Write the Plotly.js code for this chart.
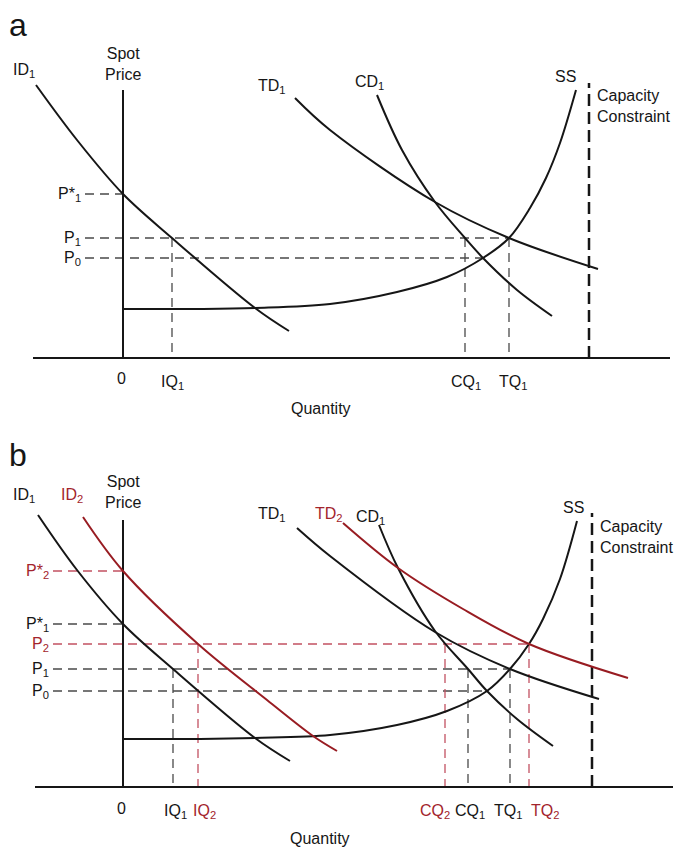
<!DOCTYPE html>
<html>
<head>
<meta charset="utf-8">
<script src="https://cdn.plot.ly/plotly-3.0.1.min.js"></script>
<style>html,body{margin:0;padding:0;background:#fff;}#chart{width:675px;height:850px;}</style>
</head>
<body>
<div id="chart"></div>
<script>
// ---------- Panel a data (Quantity, Spot Price) ----------
const aID1_q = [-8.7, -4.6, 0, 4.9, 13.2, 16.6];
const aID1_p = [27.3, 21.8, 16.4, 12.0, 5.0, 2.7];
const aTD1_q = [17.2, 20.7, 31.2, 38.6, 47.5];
const aTD1_p = [26.0, 22.8, 15.6, 12.0, 8.9];
const aCD1_q = [25.4, 27.9, 31.2, 34.2, 36.0, 39.4, 42.9];
const aCD1_p = [26.3, 20.8, 15.6, 12.0, 10.0, 6.8, 4.2];
const aSS_q = [0, 7.7, 13.2, 20.7, 27.4, 32.4, 36.0, 38.6, 40.7, 42.3, 43.7, 45.3];
const aSS_p = [4.9, 4.9, 5.0, 5.4, 6.6, 8.1, 10.0, 12.0, 15.0, 18.0, 21.5, 26.8];
const aPriceLabels = ['P*<sub>1</sub>', 'P<sub>1</sub>', 'P<sub>0</sub>'];
const aPrices = [16.4, 12.0, 10.0];
const aPriceEnds = [0, 38.6, 36.0];
const aQtyLabels = ['IQ<sub>1</sub>', 'CQ<sub>1</sub>', 'TQ<sub>1</sub>'];
const aQty = [4.9, 34.2, 38.6];
const aQtyTops = [12.0, 12.0, 12.0];
const aQtyLabelPos = [4.9, 34.3, 39.0];
const aCapacity = 46.6;

// ---------- Panel b data ----------
const bID1_q = [-8.5, -4.6, 0, 5.0, 13.2, 16.7];
const bID1_p = [27.2, 21.7, 16.3, 11.8, 4.9, 2.6];
const bID2_q = [-4.0, 0, 7.5, 14.4, 19.0, 21.4];
const bID2_p = [27.0, 21.6, 14.3, 8.7, 5.1, 3.6];
const bTD1_q = [17.4, 20.7, 31.2, 38.7, 47.6];
const bTD1_p = [25.9, 23.1, 15.5, 11.8, 8.8];
const bTD2_q = [22.0, 27.5, 34.0, 40.6, 50.5];
const bTD2_p = [26.4, 21.9, 17.8, 14.3, 10.9];
const bCD1_q = [25.6, 27.5, 31.2, 34.5, 36.4, 39.4, 43.0];
const bCD1_p = [26.2, 21.9, 15.6, 11.8, 9.6, 6.8, 4.1];
const bSS_q = [0, 7.7, 13.2, 20.7, 27.4, 32.4, 36.4, 38.7, 40.6, 42.0, 43.7, 45.4];
const bSS_p = [4.8, 4.8, 4.9, 5.2, 6.2, 7.6, 9.6, 11.8, 14.3, 16.8, 20.8, 26.6];
const bBlackPriceLabels = ['P*<sub>1</sub>', 'P<sub>1</sub>', 'P<sub>0</sub>'];
const bBlackPrices = [16.3, 11.8, 9.6];
const bBlackPriceEnds = [0, 38.7, 36.4];
const bRedPriceLabels = ['P*<sub>2</sub>', 'P<sub>2</sub>'];
const bRedPrices = [21.6, 14.3];
const bRedPriceEnds = [0, 40.6];
const bBlackQtyLabels = ['IQ<sub>1</sub>', 'CQ<sub>1</sub>', 'TQ<sub>1</sub>'];
const bBlackQty = [5.0, 34.5, 38.7];
const bBlackQtyTops = [11.8, 11.8, 11.8];
const bBlackQtyLabelPos = [5.2, 34.7, 38.5];
const bRedQtyLabels = ['IQ<sub>2</sub>', 'CQ<sub>2</sub>', 'TQ<sub>2</sub>'];
const bRedQty = [7.5, 32.2, 40.6];
const bRedQtyTops = [14.3, 14.3, 14.3];
const bRedQtyLabelPos = [8.1, 31.2, 42.2];
const bCapacity = 46.9;

// ---------- styles ----------
const BLACK = '#161616';
const RED = '#981c22';
const RED_DASH = '#c25262';
const RED_TEXT = '#a3242c';
const GRAY_DASH = '#4a4a4a';
const FONT = 'Liberation Sans, Arial, sans-serif';

const traces = [];
const annotations = [];

function curve(q, p, color, xa, ya) {
  traces.push({x: q, y: p, xaxis: xa, yaxis: ya, mode: 'lines', hoverinfo: 'skip',
    line: {color: color, width: 2, shape: 'spline', smoothing: 1}});
}
function seg(x0, y0, x1, y1, color, width, dash, xa, ya) {
  traces.push({x: [x0, x1], y: [y0, y1], xaxis: xa, yaxis: ya, mode: 'lines', hoverinfo: 'skip',
    line: {color: color, width: width, dash: dash || 'solid'}});
}
function label(text, x, y, color, xa, ya, opts) {
  annotations.push(Object.assign({text: text, x: x, y: y, xref: xa, yref: ya, showarrow: false,
    font: {family: FONT, size: 16, color: color}, xanchor: 'center', yanchor: 'middle'}, opts || {}));
}

const GUIDE = '9px,6px';
const CAP = '12px,6px';

// ---------- Panel a ----------
(function(){
  const xa = 'x', ya = 'y';
  aPrices.forEach((p, i) => {
    seg(-3.8, p, aPriceEnds[i], p, GRAY_DASH, 1.3, GUIDE, xa, ya);
    label(aPriceLabels[i], -4.0, p, BLACK, xa, ya, {xanchor: 'right'});
  });
  aQty.forEach((q, i) => {
    seg(q, aQtyTops[i], q, 0, GRAY_DASH, 1.3, GUIDE, xa, ya);
    label(aQtyLabels[i], aQtyLabelPos[i], -2.4, BLACK, xa, ya);
  });
  seg(aCapacity, 0, aCapacity, 27.5, BLACK, 2.5, CAP, xa, ya);
  seg(-9.0, 0, 54.7, 0, BLACK, 2, null, xa, ya);
  seg(0, 0, 0, 26.8, BLACK, 2, null, xa, ya);
  curve(aSS_q, aSS_p, BLACK, xa, ya);
  curve(aID1_q, aID1_p, BLACK, xa, ya);
  curve(aTD1_q, aTD1_p, BLACK, xa, ya);
  curve(aCD1_q, aCD1_p, BLACK, xa, ya);
  label('a', -10.5, 33.3, BLACK, xa, ya, {font: {family: FONT, size: 32, color: BLACK}});
  label('ID<sub>1</sub>', -9.9, 28.8, BLACK, xa, ya);
  label('Spot<br>Price', 0, 29.4, BLACK, xa, ya);
  label('TD<sub>1</sub>', 14.9, 27.2, BLACK, xa, ya);
  label('CD<sub>1</sub>', 24.6, 27.6, BLACK, xa, ya);
  label('SS', 44.2, 28.2, BLACK, xa, ya);
  label('Capacity<br>Constraint', 47.2, 25.2, BLACK, xa, ya, {xanchor: 'left', align: 'left'});
  label('0', -0.2, -2.0, BLACK, xa, ya);
  label('Quantity', 19.8, -5.0, BLACK, xa, ya);
})();

// ---------- Panel b ----------
(function(){
  const xa = 'x2', ya = 'y2';
  bBlackPrices.forEach((p, i) => {
    seg(-7.0, p, bBlackPriceEnds[i], p, GRAY_DASH, 1.3, GUIDE, xa, ya);
    label(bBlackPriceLabels[i], -7.2, p, BLACK, xa, ya, {xanchor: 'right'});
  });
  bRedPrices.forEach((p, i) => {
    seg(-7.0, p, bRedPriceEnds[i], p, RED_DASH, 1.3, GUIDE, xa, ya);
    label(bRedPriceLabels[i], -7.2, p, RED_TEXT, xa, ya, {xanchor: 'right'});
  });
  bBlackQty.forEach((q, i) => {
    seg(q, bBlackQtyTops[i], q, 0, GRAY_DASH, 1.3, GUIDE, xa, ya);
    label(bBlackQtyLabels[i], bBlackQtyLabelPos[i], -2.4, BLACK, xa, ya);
  });
  bRedQty.forEach((q, i) => {
    seg(q, bRedQtyTops[i], q, 0, RED_DASH, 1.3, GUIDE, xa, ya);
    label(bRedQtyLabels[i], bRedQtyLabelPos[i], -2.4, RED_TEXT, xa, ya);
  });
  seg(bCapacity, 0, bCapacity, 27.4, BLACK, 2.5, CAP, xa, ya);
  seg(-8.8, 0, 55.0, 0, BLACK, 2, null, xa, ya);
  seg(0, 0, 0, 26.7, BLACK, 2, null, xa, ya);
  curve(bSS_q, bSS_p, BLACK, xa, ya);
  curve(bID1_q, bID1_p, BLACK, xa, ya);
  curve(bTD1_q, bTD1_p, BLACK, xa, ya);
  curve(bCD1_q, bCD1_p, BLACK, xa, ya);
  curve(bID2_q, bID2_p, RED, xa, ya);
  curve(bTD2_q, bTD2_p, RED, xa, ya);
  label('b', -10.5, 33.2, BLACK, xa, ya, {font: {family: FONT, size: 32, color: BLACK}});
  label('ID<sub>1</sub>', -9.9, 29.2, BLACK, xa, ya);
  label('ID<sub>2</sub>', -5.1, 29.2, RED_TEXT, xa, ya);
  label('Spot<br>Price', 0, 29.5, BLACK, xa, ya);
  label('TD<sub>1</sub>', 14.9, 27.3, BLACK, xa, ya);
  label('TD<sub>2</sub>', 20.6, 27.3, RED_TEXT, xa, ya);
  label('CD<sub>1</sub>', 24.7, 27.0, BLACK, xa, ya);
  label('SS', 45.0, 28.0, BLACK, xa, ya);
  label('Capacity<br>Constraint', 47.5, 25.0, BLACK, xa, ya, {xanchor: 'left', align: 'left'});
  label('0', -0.2, -2.1, BLACK, xa, ya);
  label('Quantity', 19.7, -5.1, BLACK, xa, ya);
})();

const hidden = {visible: false, fixedrange: true};
const layout = {
  width: 675, height: 850,
  margin: {l: 0, r: 0, t: 0, b: 0, pad: 0},
  paper_bgcolor: '#ffffff', plot_bgcolor: '#ffffff',
  showlegend: false,
  font: {family: FONT, size: 16, color: BLACK},
  xaxis: Object.assign({domain: [0, 1], range: [-12.3, 55.2], anchor: 'y'}, hidden),
  yaxis: Object.assign({domain: [0.5, 1], range: [-6.7, 35.8], anchor: 'x'}, hidden),
  xaxis2: Object.assign({domain: [0, 1], range: [-12.3, 55.2], anchor: 'y2'}, hidden),
  yaxis2: Object.assign({domain: [0, 0.5], range: [-6.3, 36.2], anchor: 'x2'}, hidden),
  annotations: annotations
};
Plotly.newPlot('chart', traces, layout, {staticPlot: true, displayModeBar: false});
</script>
</body>
</html>
